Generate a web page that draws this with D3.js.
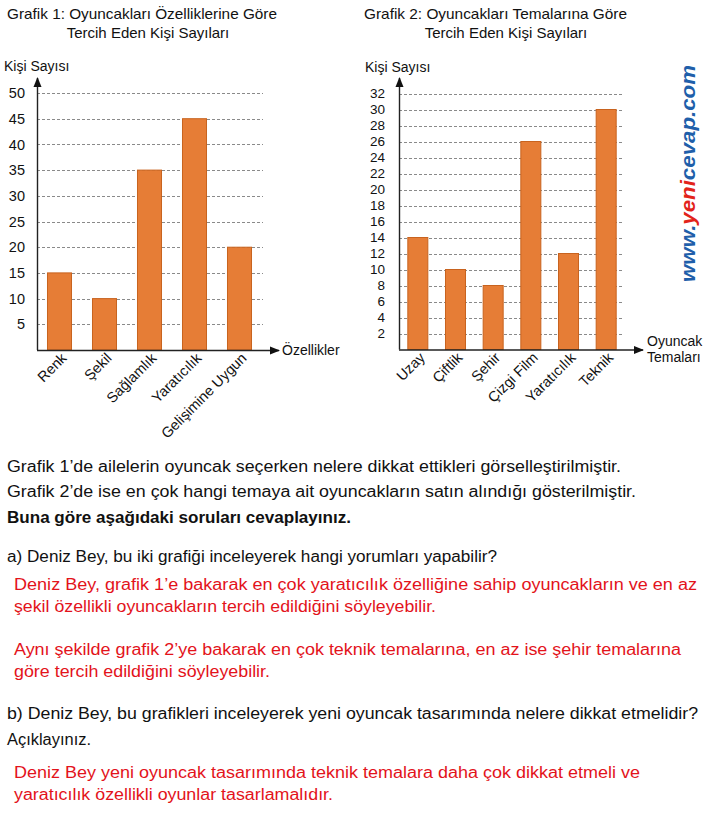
<!DOCTYPE html>
<html><head><meta charset="utf-8">
<script src="https://cdn.jsdelivr.net/npm/d3@7"></script>
<style>
html,body{margin:0;padding:0;background:#fff;}
svg{display:block;font-family:"Liberation Sans",Arial,sans-serif;}
</style></head>
<body>
<svg id="c" width="710" height="818"></svg>
<script>
// ---- data ----
const cats1 = ["Renk", "Şekil", "Sağlamlık", "Yaratıcılık", "Gelişimine Uygun"];
const vals1 = [15, 10, 35, 45, 20];
const ticks1 = [5, 10, 15, 20, 25, 30, 35, 40, 45, 50];

const cats2 = ["Uzay", "Çiftlik", "Şehir", "Çizgi Film", "Yaratıcılık", "Teknik"];
const vals2 = [14, 10, 8, 26, 12, 30];
const ticks2 = [2, 4, 6, 8, 10, 12, 14, 16, 18, 20, 22, 24, 26, 28, 30, 32];

const title1 = ["Grafik 1: Oyuncakları Özelliklerine Göre", "Tercih Eden Kişi Sayıları"];
const title2 = ["Grafik 2: Oyuncakları Temalarına Göre", "Tercih Eden Kişi Sayıları"];
const yLabel = "Kişi Sayısı";
const xLabel1 = ["Özellikler"];
const xLabel2 = ["Oyuncak", "Temaları"];

const svg = d3.select("#c");
const BAR = "#E67D36", BAR_STROKE = "#C8631F", AX = "#222", GRID = "#8a8a8a";
const RED = "#E3131B";

svg.append("defs").append("marker")
  .attr("id", "arr").attr("viewBox", "0 0 10 10").attr("refX", 9).attr("refY", 5)
  .attr("markerWidth", 10).attr("markerHeight", 10).attr("markerUnits", "userSpaceOnUse")
  .attr("orient", "auto")
  .append("path").attr("d", "M0,1 L10,5 L0,9 Z").attr("fill", "#111");

function chart(o) {
  const g = svg.append("g");
  const y = d3.scaleLinear().domain(o.domain).range([o.y0, o.yTop]);
  const x = d3.scaleBand().domain(o.cats).range([o.ax, o.xEnd])
    .paddingInner(o.pin).paddingOuter(o.pout);

  // grid
  g.selectAll(".grid").data(o.ticks).join("line")
    .attr("x1", o.ax).attr("x2", o.gridEnd)
    .attr("y1", d => Math.round(y(d)) + 0.5).attr("y2", d => Math.round(y(d)) + 0.5)
    .attr("stroke", GRID).attr("stroke-width", 1).attr("stroke-dasharray", "3,2");

  // bars
  g.selectAll(".bar").data(o.vals).join("rect")
    .attr("x", (d, i) => x(o.cats[i]) + 0.5)
    .attr("y", d => y(d))
    .attr("width", x.bandwidth() - 1)
    .attr("height", d => y(0) - y(d))
    .attr("fill", BAR).attr("stroke", BAR_STROKE).attr("stroke-width", 1);

  // y axis labels
  const ya = d3.axisLeft(y).tickValues(o.ticks).tickSize(0).tickPadding(o.ax - o.labelRight);
  const yg = g.append("g").attr("transform", `translate(${o.ax},0)`).call(ya);
  yg.select(".domain").remove();
  yg.selectAll("text").attr("font-size", o.tickFs).attr("fill", "#111")
    .attr("font-family", "Liberation Sans, Arial, sans-serif");

  // axes with arrows
  g.append("line").attr("x1", o.ax + 0.5).attr("x2", o.ax + 0.5)
    .attr("y1", o.y0).attr("y2", o.arrowTop)
    .attr("stroke", AX).attr("stroke-width", 1.4).attr("marker-end", "url(#arr)");
  g.append("line").attr("x1", o.ax).attr("x2", o.arrowRight)
    .attr("y1", o.y0 + 0.5).attr("y2", o.y0 + 0.5)
    .attr("stroke", AX).attr("stroke-width", 1.4).attr("marker-end", "url(#arr)");

  // x labels rotated
  g.selectAll(".xl").data(o.cats).join("text")
    .attr("transform", d => `translate(${x(d) + x.bandwidth() / 2 + o.lblDx},${o.y0 + o.lblDy}) rotate(-45)`)
    .attr("text-anchor", "end").attr("font-size", o.lblFs).attr("fill", "#111")
    .text(d => d);

  // y title
  g.append("text").attr("x", o.yTitleX).attr("y", o.yTitleY)
    .attr("font-size", 14).attr("fill", "#111").text(yLabel);

  // x title
  g.selectAll(".xt").data(o.xTitle).join("text")
    .attr("x", o.xTitleX).attr("y", (d, i) => o.xTitleY + i * 16)
    .attr("font-size", 14).attr("fill", "#111").text(d => d);

  // chart title
  g.append("text").attr("x", o.t1x).attr("y", 19).attr("font-size", 15).attr("fill", "#111")
    .attr("textLength", o.t1w).attr("lengthAdjust", "spacingAndGlyphs").text(o.title[0]);
  g.append("text").attr("x", o.t2cx).attr("y", 38).attr("font-size", 15).attr("fill", "#111")
    .attr("text-anchor", "middle").text(o.title[1]);
}

chart({
  cats: cats1, vals: vals1, ticks: ticks1, domain: [0, 50],
  y0: 350, yTop: 93, ax: 37, xEnd: 262, pin: 0.444, pout: 0.222, gridEnd: 263,
  labelRight: 25, tickFs: 14.5, arrowTop: 78, arrowRight: 279,
  lblDx: 8, lblDy: 9, lblFs: 14.5,
  yTitleX: 4, yTitleY: 71, xTitle: xLabel1, xTitleX: 282, xTitleY: 355,
  title: title1, t1x: 7, t1w: 270, t2cx: 148
});

chart({
  cats: cats2, vals: vals2, ticks: ticks2, domain: [0, 32],
  y0: 349.5, yTop: 93.5, ax: 399, xEnd: 625, pin: 0.4425, pout: 0.221, gridEnd: 623,
  labelRight: 385, tickFs: 13.5, arrowTop: 78, arrowRight: 643,
  lblDx: 8, lblDy: 9, lblFs: 14.5,
  yTitleX: 365, yTitleY: 72, xTitle: xLabel2, xTitleX: 647, xTitleY: 346,
  title: title2, t1x: 364, t1w: 263, t2cx: 506
});

// watermark
const wm = svg.append("text")
  .attr("transform", "translate(695,282) rotate(-90)")
  .attr("font-size", 21).attr("font-weight", "bold").attr("font-style", "italic")
  .attr("textLength", 217).attr("lengthAdjust", "spacingAndGlyphs");
wm.append("tspan").attr("fill", "#1F5FAA").text("www.");
wm.append("tspan").attr("fill", "#E2231A").text("yeni");
wm.append("tspan").attr("fill", "#1F5FAA").text("cevap.com");

// body text
const body = [
  { t: "Grafik 1’de ailelerin oyuncak seçerken nelere dikkat ettikleri görselleştirilmiştir.", x: 7, y: 472, w: 614, c: "#111" },
  { t: "Grafik 2’de ise en çok hangi temaya ait oyuncakların satın alındığı gösterilmiştir.", x: 7, y: 497, w: 629, c: "#111" },
  { t: "Buna göre aşağıdaki soruları cevaplayınız.", x: 7, y: 523, w: 344, c: "#111", b: true },
  { t: "a) Deniz Bey, bu iki grafiği inceleyerek hangi yorumları yapabilir?", x: 7, y: 562, w: 490, c: "#111" },
  { t: "Deniz Bey, grafik 1’e bakarak en çok yaratıcılık özelliğine sahip oyuncakların ve en az", x: 14, y: 590, w: 683, c: RED },
  { t: "şekil özellikli oyuncakların tercih edildiğini söyleyebilir.", x: 14, y: 612, w: 422, c: RED },
  { t: "Aynı şekilde grafik 2’ye bakarak en çok teknik temalarına, en az ise şehir temalarına", x: 14, y: 655, w: 667, c: RED },
  { t: "göre tercih edildiğini söyleyebilir.", x: 14, y: 677, w: 256, c: RED },
  { t: "b) Deniz Bey, bu grafikleri inceleyerek yeni oyuncak tasarımında nelere dikkat etmelidir?", x: 7, y: 719, w: 691, c: "#111" },
  { t: "Açıklayınız.", x: 7, y: 745, w: 84, c: "#111" },
  { t: "Deniz Bey yeni oyuncak tasarımında teknik temalara daha çok dikkat etmeli ve", x: 14, y: 778, w: 626, c: RED },
  { t: "yaratıcılık özellikli oyunlar tasarlamalıdır.", x: 14, y: 800, w: 319, c: RED }
];
svg.selectAll(".body").data(body).join("text")
  .attr("x", d => d.x).attr("y", d => d.y)
  .attr("font-size", 16).attr("fill", d => d.c)
  .attr("font-weight", d => d.b ? "bold" : "normal")
  .attr("textLength", d => d.w).attr("lengthAdjust", "spacingAndGlyphs")
  .text(d => d.t);
</script>
</body></html>
